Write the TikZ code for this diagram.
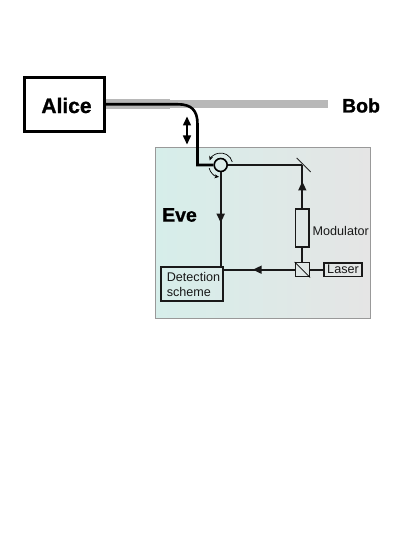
\documentclass[tikz,border=0pt]{standalone}
\usepackage{fontspec}
\setmainfont{Liberation Sans}
\newfontfamily\heavyfont[FakeBold=1.0]{Liberation Sans Bold}
\usetikzlibrary{arrows.meta,calc}
\definecolor{fibgray}{RGB}{184,184,184}
\definecolor{evel}{RGB}{214,238,234}
\definecolor{ever}{RGB}{229,229,229}
\tikzset{
  big/.style={font=\fontsize{21}{23}\heavyfont,inner sep=0pt},
  med/.style={font=\fontsize{19.5}{22}\heavyfont,inner sep=0pt},
  small/.style={font=\fontsize{12.6}{14.5}\selectfont,inner sep=0pt,text=black!90},
  optbox/.style={draw=black!90,line width=1.7pt,fill=none,inner sep=0pt},
  beam/.style={line width=1.7pt,draw=black!90},
  flow/.style={-{Triangle[length=9pt,width=8pt]}},
}
\begin{document}
\begin{tikzpicture}[x=1pt,y=-1pt]
\useasboundingbox[fill=white] (0,0) rectangle (415,537);
% Eve panel
\node[draw=black!40,line width=0.6pt,left color=evel,right color=ever,minimum width=215pt,minimum height=171pt,inner sep=0pt] (panel) at (262.5,233) {};
% Alice / Bob
\node[draw=black,line width=2.2pt,minimum width=80pt,minimum height=54pt,inner sep=0pt] (alice) at (64.5,104.5) {};
\node[big] (alicetxt) at (66.5,105.5) {Alice};
\node[med] (bob) at (361,105.5) {Bob};
\coordinate (fibmid) at (170,104.3);
\coordinate (fibend) at (328,104.3);
\draw[fibgray,line width=7.6pt] (fibmid) -- (fibend);
\draw[fibgray,line width=10pt] (alice.east |- fibmid) -- (fibmid);
% circulator
\node[circle,draw=black,line width=1.6pt,minimum size=13pt,inner sep=0pt] (circ) at (220.7,165) {};
\coordinate (bend) at (197.5,165);
\draw[black,line width=2.6pt] (alice.east |- fibmid) -- (178,104.3) .. controls (191,104.3) and (197.5,110) .. (197.5,124) -- (bend) -- (circ.west);
\draw[line width=0.7pt,-{Stealth[length=4.5pt,width=4pt]}] ([shift={(15:12pt)}]circ.center) arc[start angle=15,end angle=158,radius=12pt];
\draw[line width=0.7pt,-{Stealth[length=4.5pt,width=4pt]}] ([shift={(195:12pt)}]circ.center) arc[start angle=195,end angle=262,radius=12pt];
% double arrow
\coordinate (dbla) at (187,116.5);
\coordinate (dblb) at (187,144.5);
\draw[line width=1.5pt,{Triangle[length=9pt,width=8pt]}-{Triangle[length=9pt,width=8pt]}] (dbla) -- (dblb);
% Eve
\node[med] (eve) at (179.5,215) {Eve};
% components
\node[optbox,minimum width=13.5pt,minimum height=38pt] (mod) at (302.3,228) {};
\node[small,anchor=west] (modtxt) at (312.5,230.5) {Modulator};
\node[draw=black!90,line width=1.5pt,minimum size=14pt,inner sep=0pt] (bs) at (302.3,269.7) {};
\draw[line width=0.8pt] (bs.north west) -- (bs.south east);
\node[optbox,minimum width=38pt,minimum height=13.5pt] (laser) at (343,269.7) {};
\node[small] (lasertxt) at (343,269.7) {Laser};
\node[optbox,minimum width=62pt,minimum height=33.5pt] (det) at (192,284) {};
\node[small,align=left] (dettxt) at (193.5,284.5) {Detection\\scheme};
\coordinate (mircen) at (302.3,165);
\coordinate (mira) at (296.7,158);
\coordinate (mirb) at (310.7,172);
\draw[line width=0.8pt,black!85] (mira) -- (mirb);
% beams
\draw[beam] (circ.east) -- (mircen);
\draw[beam] (mircen) -- (mod.north);
\draw[beam] (mod.south) -- (bs.north);
\draw[beam] (bs.east) -- (laser.west);
\draw[beam] (bs.west) -- (bs.west -| det.east);
\draw[beam] (circ.south) -- (circ.south |- det.north);
% direction arrowheads
\coordinate (ua) at (302.3,192);
\coordinate (ub) at (302.3,181.5);
\draw[beam,flow] (ua) -- (ub);
\coordinate (da) at (220.7,212);
\coordinate (db) at (220.7,222.7);
\draw[beam,flow] (da) -- (db);
\coordinate (la) at (264,269.7);
\coordinate (lb) at (252.7,269.7);
\draw[beam,flow] (la) -- (lb);
\end{tikzpicture}
\end{document}
